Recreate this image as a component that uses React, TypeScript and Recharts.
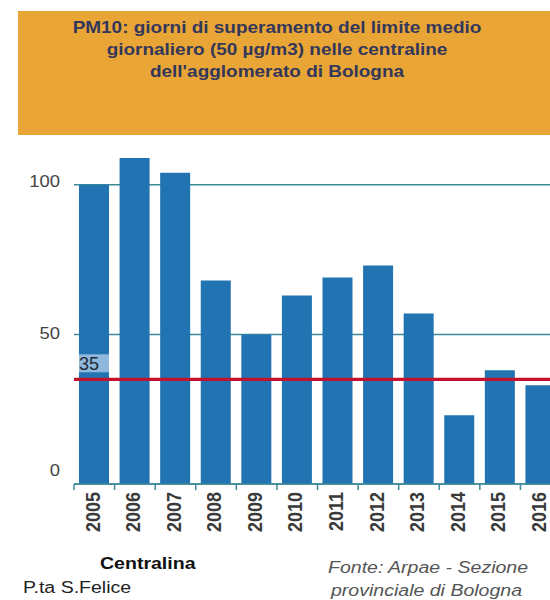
import { Bar, BarChart, CartesianGrid, ReferenceLine, XAxis, YAxis } from "recharts";

const years = ["2005", "2006", "2007", "2008", "2009", "2010", "2011", "2012", "2013", "2014", "2015", "2016"];
const exceedDays = [100, 109, 104, 68, 50, 63, 69, 73, 57, 23, 38, 33];
const yTicks = [0, 50, 100];
const dailyLimit = 35;

const titleLines = [
  "PM10: giorni di superamento del limite medio",
  "giornaliero (50 µg/m3) nelle centraline",
  "dell'agglomerato di Bologna",
];
const stationLabel = "Centralina";
const stationName = "P.ta S.Felice";
const sourceLines = ["Fonte: Arpae - Sezione", "provinciale di Bologna"];

const data = years.map((year, i) => ({ year, days: exceedDays[i] }));

const FONT = "'Liberation Sans', Arial, sans-serif";
const TEAL = "#3f8a99";
const CHART_W = 580;
const Y_AXIS_W = 74;
const RIGHT = 19;
const BAND = (CHART_W - Y_AXIS_W - RIGHT) / years.length;
const STRETCH = "scale(1.15,1)";

function YearTick({ x, y, payload }: any) {
  const left = x - BAND / 2;
  return (
    <g>
      <line x1={left} y1={y} x2={left} y2={y + 6} stroke={TEAL} strokeWidth={1.5} />
      <g transform={`translate(${x - 2},${y + 8}) ${STRETCH} rotate(-90)`}>
        <text
          x={0}
          y={0}
          dy="0.35em"
          textAnchor="end"
          fontSize={18}
          fontWeight="bold"
          fill="#3a3a3a"
          fontFamily={FONT}
        >
          {payload.value}
        </text>
      </g>
    </g>
  );
}

function DaysTick({ y, payload }: any) {
  // the zero label sits above the axis line in the original
  const shift = payload.value === 0 ? -14 : payload.value === 100 ? -3 : -1;
  return (
    <g transform={`translate(60,${y + shift}) ${STRETCH}`}>
      <text x={0} y={0} dy="0.35em" textAnchor="end" fontSize={16} fill="#444" fontFamily={FONT}>
        {payload.value}
      </text>
    </g>
  );
}

function LimitLabel({ viewBox }: any) {
  if (!viewBox) return null;
  const { x, y } = viewBox;
  return (
    <g>
      <rect x={x + 5} y={y - 25} width={30} height={18} fill="#8fb8dc" />
      <text x={x + 5} y={y - 9} fontSize={18} fill="#1e2a3a" fontFamily={FONT}>
        {dailyLimit}
      </text>
    </g>
  );
}

export default function App() {
  return (
    <div
      style={{
        position: "absolute",
        left: 0,
        top: 0,
        width: 550,
        height: 600,
        overflow: "hidden",
        background: "#fff",
        fontFamily: FONT,
      }}
    >
      <div style={{ position: "absolute", left: 0, top: 0 }}>
        <BarChart
          width={CHART_W}
          height={600}
          data={data}
          margin={{ top: 125, right: RIGHT, left: 0, bottom: 0 }}
        >
          <CartesianGrid vertical={false} horizontalValues={yTicks} stroke={TEAL} strokeWidth={1.5} />
          <XAxis
            dataKey="year"
            height={116}
            interval={0}
            tickLine={false}
            tickSize={0}
            tickMargin={0}
            axisLine={{ stroke: TEAL, strokeWidth: 1.5 }}
            tick={(p: any) => <YearTick {...p} />}
          />
          <YAxis
            width={Y_AXIS_W}
            domain={[0, 120]}
            ticks={yTicks}
            axisLine={false}
            tickLine={false}
            tick={(p: any) => <DaysTick {...p} />}
          />
          <Bar dataKey="days" fill="#2273b1" barSize={30} isAnimationActive={false} />
          <ReferenceLine
            y={dailyLimit}
            stroke="#c3122d"
            strokeWidth={3.3}
            label={(p: any) => <LimitLabel viewBox={p.viewBox} />}
          />
        </BarChart>
      </div>

      <div style={{ position: "absolute", left: 18, top: 11, width: 560, height: 124, background: "#e9a535" }} />

      <svg width={550} height={600} style={{ position: "absolute", left: 0, top: 0, pointerEvents: "none" }}>
        {titleLines.map((line, i) => (
          <text
            key={line}
            transform={`translate(277,${32.7 + i * 22}) ${STRETCH}`}
            textAnchor="middle"
            fontSize={16.5}
            fontWeight="bold"
            fill="#33375c"
            fontFamily={FONT}
          >
            {line}
          </text>
        ))}
        <text transform={`translate(100,569) ${STRETCH}`} fontSize={17} fontWeight="bold" fill="#111" fontFamily={FONT}>
          {stationLabel}
        </text>
        <text transform={`translate(23,593) ${STRETCH}`} fontSize={17} fill="#222" fontFamily={FONT}>
          {stationName}
        </text>
        {sourceLines.map((line, i) => (
          <text
            key={line}
            transform={`translate(${328 + i * 3},${573 + i * 23}) ${STRETCH}`}
            fontSize={17}
            fontStyle="italic"
            fill="#555"
            fontFamily={FONT}
          >
            {line}
          </text>
        ))}
      </svg>
    </div>
  );
}
